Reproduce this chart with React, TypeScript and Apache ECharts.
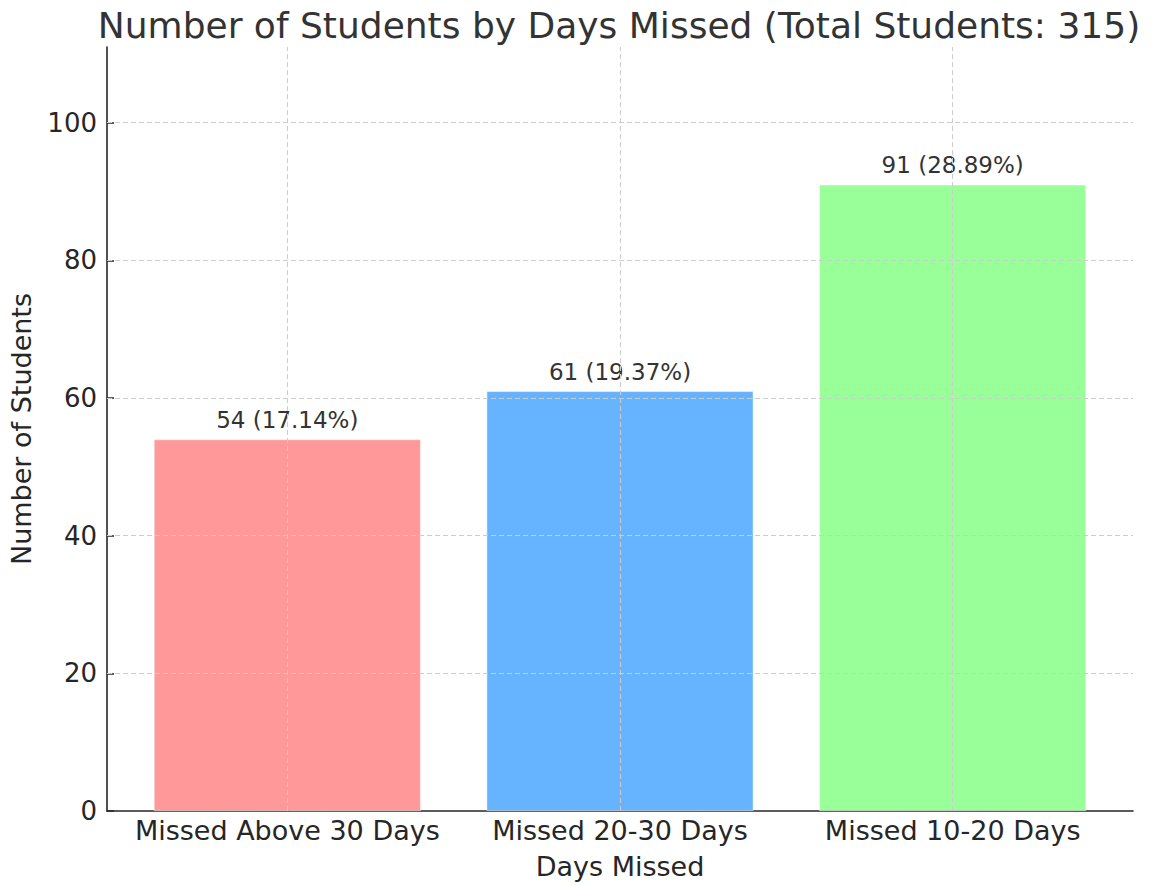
import React, { useEffect, useRef } from "react";
import * as echarts from "echarts";

const categories = ["Missed Above 30 Days", "Missed 20-30 Days", "Missed 10-20 Days"];
const counts = [54, 61, 91];
const totalStudents = 315;
const barColors = ["#ff9999", "#66b3ff", "#99ff99"];
const yTicks = [0, 20, 40, 60, 80, 100];
const yGridLines = [20, 40, 60, 80, 100];

export default function App() {
  const ref = useRef<HTMLDivElement>(null);
  useEffect(() => {
    if (!ref.current) return;
    const chart = echarts.init(ref.current, null, { renderer: "svg" });
    const font = "DejaVu Sans";
    const gridStyle = { color: "#cccccc", type: [5, 3] as any, width: 1 };
    const xIdx = categories.map((_, i) => i);
    chart.setOption({
      animation: false,
      backgroundColor: "#ffffff",
      title: {
        text: `Number of Students by Days Missed (Total Students: ${totalStudents})`,
        left: 614,
        top: 2,
        textAlign: "center",
        textStyle: { fontFamily: font, fontSize: 36, fontWeight: "normal", color: "#333333" },
      },
      grid: { left: 103, right: 22, top: 47, bottom: 70 },
      xAxis: {
        type: "value",
        min: -0.542,
        max: 2.542,
        name: "Days Missed",
        nameLocation: "middle",
        nameGap: 42,
        nameTextStyle: { fontFamily: font, fontSize: 27, color: "#262626", verticalAlign: "top" },
        axisLine: { show: true, onZero: false, lineStyle: { color: "#262626", width: 1.6 } },
        axisTick: { show: true, inside: true, length: 7, customValues: xIdx, lineStyle: { color: "#262626", width: 1.5 } },
        axisLabel: {
          customValues: xIdx,
          formatter: (v: number) => categories[Math.round(v)] ?? "",
          fontFamily: font,
          fontSize: 27,
          color: "#262626",
          margin: 6,
        },
        splitLine: { show: false },
      },
      yAxis: {
        type: "value",
        min: 0,
        max: 111,
        name: "Number of Students",
        nameLocation: "middle",
        nameGap: 72,
        nameTextStyle: { fontFamily: font, fontSize: 27, color: "#262626" },
        axisLine: { show: true, onZero: false, lineStyle: { color: "#262626", width: 1.6 } },
        axisTick: { show: true, inside: true, length: 7, customValues: yTicks, lineStyle: { color: "#262626", width: 1.5 } },
        axisLabel: {
          customValues: yTicks,
          fontFamily: font,
          fontSize: 26,
          color: "#262626",
          margin: 10,
        },
        splitLine: { show: false },
      },
      series: [
        {
          type: "bar",
          barWidth: 267,
          data: counts.map((c, i) => ({
            value: [i, c],
            itemStyle: { color: barColors[i], borderColor: "rgba(255,255,255,0.6)", borderWidth: 0.8 },
          })),
          label: {
            show: true,
            position: "top",
            distance: 8,
            fontFamily: font,
            fontSize: 23,
            color: "#333333",
            formatter: (p: any) => {
              const v = p.value[1];
              return `${v} (${((v / totalStudents) * 100).toFixed(2)}%)`;
            },
          },
          markLine: {
            silent: true,
            symbol: "none",
            label: { show: false },
            lineStyle: gridStyle,
            z: 10,
            data: [
              ...yGridLines.map((y) => ({ yAxis: y })),
              ...xIdx.map((x) => ({ xAxis: x })),
            ],
          },
        },
      ],
    });
    return () => chart.dispose();
  }, []);
  return (
    <div
      ref={ref}
      style={{ position: "absolute", left: 0, top: 0, width: 1155, height: 885 }}
    />
  );
}
